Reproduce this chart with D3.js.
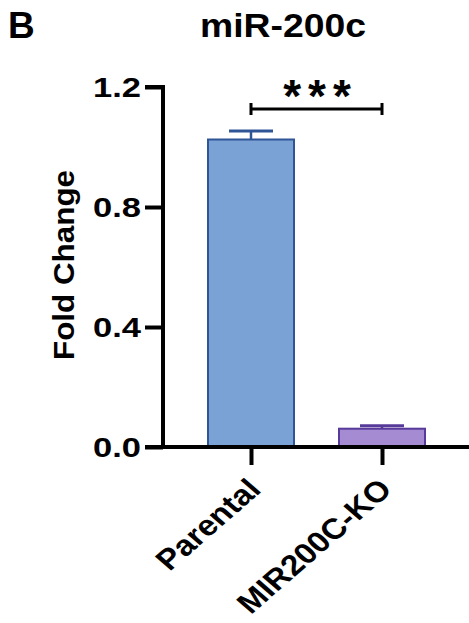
<!DOCTYPE html>
<html>
<head>
<meta charset="utf-8">
<script src="https://cdn.jsdelivr.net/npm/d3@7"></script>
<style>
  body { margin: 0; background: #fff; }
  text { font-family: "Liberation Sans", Arial, Helvetica, sans-serif; font-weight: bold; }
</style>
</head>
<body>
<div class="chart"></div>
<script>
// data
var categories = ["Parental", "MIR200C-KO"];
var means = [1.025, 0.061];
var errors = [0.028, 0.01];
var yTicks = [0, 0.4, 0.8, 1.2];
var fills = ["#7ba2d5", "#a48bd2"];
var strokes = ["#2f5597", "#573a99"];

var width = 469, height = 623;

var svg = d3.select(".chart")
    .append("svg")
    .attr("width", width)
    .attr("height", height);

var y = d3.scaleLinear()
    .domain([0, 1.2])
    .range([447, 87]);

var x = d3.scalePoint()
    .domain(categories)
    .range([251, 382]);

var barWidth = 86;

// panel letter and title
svg.append("text")
    .attr("x", 8)
    .attr("y", 38)
    .attr("font-size", 37)
    .text("B");

svg.append("text")
    .attr("x", 200)
    .attr("y", 37)
    .attr("font-size", 34)
    .attr("textLength", 166)
    .attr("lengthAdjust", "spacingAndGlyphs")
    .text("miR-200c");

// bars
svg.selectAll(".bar")
    .data(categories)
    .enter().append("rect")
    .attr("class", "bar")
    .attr("x", function(d) { return x(d) - barWidth / 2; })
    .attr("y", function(d, i) { return y(means[i]); })
    .attr("width", barWidth)
    .attr("height", function(d, i) { return y(0) - y(means[i]); })
    .attr("fill", function(d, i) { return fills[i]; })
    .attr("stroke", function(d, i) { return strokes[i]; })
    .attr("stroke-width", 2);

// error bars (upper only)
categories.forEach(function(d, i) {
    var cx = x(d);
    svg.append("line")
        .attr("x1", cx).attr("x2", cx)
        .attr("y1", y(means[i])).attr("y2", y(means[i] + errors[i]))
        .attr("stroke", strokes[i]).attr("stroke-width", 2.5);
    svg.append("line")
        .attr("x1", cx - 22).attr("x2", cx + 22)
        .attr("y1", y(means[i] + errors[i])).attr("y2", y(means[i] + errors[i]))
        .attr("stroke", strokes[i]).attr("stroke-width", 3);
});

// y axis
var yAxis = svg.append("g")
    .attr("transform", "translate(163,0)")
    .call(d3.axisLeft(y).tickValues(yTicks).tickSize(18).tickPadding(4)
        .tickFormat(d3.format(".1f")));
yAxis.select(".domain").attr("d", "M-18," + y(1.2) + "H0V" + y(0));
yAxis.selectAll("path, line").attr("stroke", "#000").attr("stroke-width", 4);
yAxis.selectAll("text")
    .attr("font-size", 27)
    .attr("fill", "#000")
    .attr("dy", "0.36em")
    .attr("textLength", 48)
    .attr("lengthAdjust", "spacingAndGlyphs");

// x axis, labels slanted and a bit stretched like the original
var xAxis = svg.append("g")
    .attr("transform", "translate(0," + y(0) + ")")
    .call(d3.axisBottom(x).tickSize(18));
xAxis.select(".domain").attr("d", "M145,0H469");
xAxis.selectAll("path, line").attr("stroke", "#000").attr("stroke-width", 4);
xAxis.selectAll("text")
    .attr("font-size", 29)
    .attr("fill", "#000")
    .attr("text-anchor", "end")
    .attr("y", 0)
    .attr("dy", 0)
    .attr("transform", "translate(11,44) scale(1.15,1) rotate(-45)");

// y axis title
svg.append("text")
    .attr("transform", "translate(74,265) rotate(-90)")
    .attr("text-anchor", "middle")
    .attr("font-size", 30)
    .attr("textLength", 190)
    .attr("lengthAdjust", "spacingAndGlyphs")
    .text("Fold Change");

// significance bracket
var sigY = 109;
var x1 = x(categories[0]), x2 = x(categories[1]);
svg.append("path")
    .attr("d", "M" + x1 + "," + (sigY - 6) + "V" + (sigY + 6) + "M" + x1 + "," + sigY +
        "H" + x2 + "M" + x2 + "," + (sigY - 6) + "V" + (sigY + 6))
    .attr("fill", "none")
    .attr("stroke", "#000")
    .attr("stroke-width", 3);

svg.append("text")
    .attr("x", (x1 + x2) / 2 + 4)
    .attr("y", 112)
    .attr("text-anchor", "middle")
    .attr("font-size", 46)
    .attr("letter-spacing", 7)
    .text("***");
</script>
</body>
</html>
